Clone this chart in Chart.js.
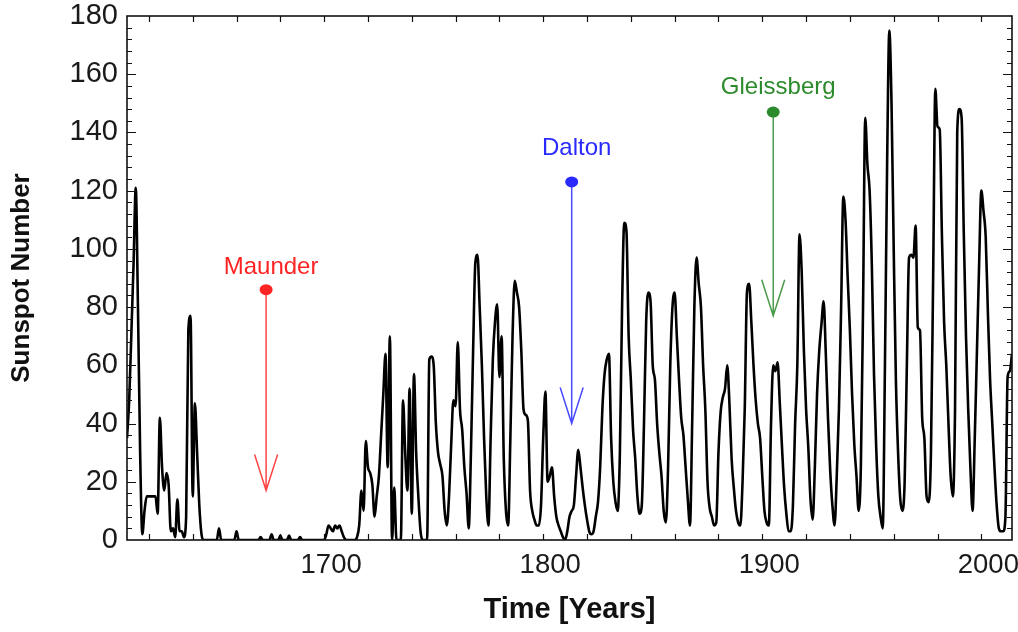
<!DOCTYPE html>
<html>
<head>
<meta charset="utf-8">
<title>Sunspot Number</title>
<script src="https://cdn.jsdelivr.net/npm/chart.js@4.4.1/dist/chart.umd.min.js"></script>
<style>
  html, body { margin: 0; padding: 0; background: #fff; }
  #wrap { width: 1018px; height: 632px; }
</style>
</head>
<body>
<div id="wrap"><canvas id="chart" width="1018" height="632"></canvas></div>
<script>
// ── data (yearly values) ──
const FIRST_YEAR = 1610;

const sunspots = [
  // 1610
  35, 48, 71, 95, 121, 80, 30, 2, 10, 15,
  // 1620
  15, 15, 15, 15, 9, 42, 25, 17, 23, 19,
  // 1630
  3, 4, 1, 14, 3, 3, 1, 8, 72, 77,
  // 1640
  15, 47, 30, 12, 2, 0, 0, 0, 0, 0,
  // 1650
  0, 0, 4, 0, 0, 0, 0, 0, 0, 0,
  // 1660
  3, 0, 0, 0, 0, 0, 0, 0, 0, 0,
  // 1670
  0, 1, 0, 0, 0, 0, 2, 0, 0, 0,
  // 1680
  1.5, 0, 0, 0, 1.5, 0, 0, 0, 0, 1,
  // 1690
  0, 0, 0, 0, 0, 0, 0, 0, 0, 0,
  // 1700
  0, 2, 5, 4, 3, 5, 4, 5, 3, 1,
  // 1710
  0, 0, 0, 0, 0, 1, 5, 17, 10, 34,
  // 1720
  25, 23, 19, 8, 15, 22, 36, 50, 64, 25,
  // 1730
  70, 0, 18, 0, 0, 0, 48, 30, 17, 52,
  // 1740
  9, 57, 30, 15, 3, 0, 0, 0, 62, 63,
  // 1750
  60, 40, 30, 26, 22, 10, 5, 15, 33, 48,
  // 1760
  46, 68, 45, 38, 25, 16, 4, 30, 65, 95,
  // 1770
  98, 80, 60, 35, 15, 5, 35, 62, 75, 81,
  // 1780
  56, 70, 28, 10, 5, 35, 70, 89, 85, 80,
  // 1790
  65, 45, 43, 41, 17, 10, 7, 5, 5, 12,
  // 1800
  35, 51, 20, 22, 25, 15, 8, 5, 3, 1,
  // 1810
  0, 3, 8, 10, 12, 22, 31, 25, 18, 12,
  // 1820
  7, 3, 2, 3, 8, 13, 25, 45, 57, 62,
  // 1830
  64, 35, 20, 13, 10, 30, 80, 109, 106, 70,
  // 1840
  55, 38, 28, 15, 9, 12, 40, 75, 85, 82,
  // 1850
  60, 55, 40, 30, 22, 10, 6, 25, 60, 80,
  // 1860
  85, 70, 55, 42, 36, 25, 14, 5, 40, 80,
  // 1870
  97, 88, 80, 60, 45, 20, 11, 8, 5, 6,
  // 1880
  30, 44, 49, 52, 60, 47, 28, 18, 10, 6,
  // 1890
  5, 20, 45, 85, 88, 75, 60, 48, 40, 35,
  // 1900
  22, 10, 6, 5, 40, 60, 58, 61, 47, 32,
  // 1910
  18, 9, 3, 3, 12, 40, 60, 105, 92, 65,
  // 1920
  45, 32, 14, 7, 25, 50, 65, 74, 82, 64,
  // 1930
  42, 24, 12, 5, 22, 45, 80, 118, 110, 90,
  // 1940
  72, 50, 33, 22, 10, 25, 80, 145, 129, 120,
  // 1950
  95, 57, 32, 15, 8, 4, 60, 130, 175, 150,
  // 1960
  100, 55, 30, 14, 10, 20, 60, 97, 98, 97,
  // 1970
  108, 73, 72, 42, 35, 15, 13, 30, 90, 155,
  // 1980
  142, 141, 105, 75, 60, 40, 22, 15, 45, 140,
  // 1990
  148, 145, 105, 70, 45, 25, 10, 35, 65, 95,
  // 2000
  120, 113, 104, 78, 55, 40, 25, 12, 4, 3,
  // 2010
  3, 8, 56, 58, 64,
];

const years = sunspots.map((_, i) => FIRST_YEAR + i);

const X_MIN = 1610;
const X_MAX = 2014;
const xTickYears = [1700, 1800, 1900, 2000];
const Y_MAX = 180;

// grand minima markers
const minimaNames  = ['Maunder', 'Dalton', 'Gleissberg'];
const minimaYears  = [1673.5, 1813, 1905];
const minimaDots   = [86, 123, 147];
const minimaTips   = [17, 40, 77];
const minimaLabels = [93.5, 134.5, 155.6];
const minimaColors = ['#ff2424', '#2a2aff', '#2b8a2b'];

const FONT = '"Liberation Sans", Arial, Helvetica, sans-serif';

// ─────────────────────────────────────────
// frame + inward ticks
// ─────────────────────────────────────────
const framePlugin = {
  id: 'frame',
  afterDatasetsDraw(chart) {
    const { ctx, chartArea: a, scales: { x, y } } = chart;
    ctx.save();
    ctx.strokeStyle = '#111';
    ctx.lineWidth = 1.2;
    ctx.beginPath();
    for (let yr = 1620; yr < X_MAX; yr += 20) {
      const px = Math.round(x.getPixelForValue(yr)) + 0.5;
      ctx.moveTo(px, a.bottom); ctx.lineTo(px, a.bottom - 6);
      ctx.moveTo(px, a.top);    ctx.lineTo(px, a.top + 6);
    }
    for (let v = 4; v < Y_MAX; v += 4) {
      const py = Math.round(y.getPixelForValue(v)) + 0.5;
      const len = v % 20 === 0 ? 9 : 5;
      ctx.moveTo(a.left, py);  ctx.lineTo(a.left + len, py);
      ctx.moveTo(a.right, py); ctx.lineTo(a.right - len, py);
    }
    ctx.stroke();
    ctx.lineWidth = 1.6;
    ctx.strokeRect(a.left, a.top, a.right - a.left, a.bottom - a.top);
    ctx.restore();
  },
};

// ─────────────────────────────────────────
// Maunder / Dalton / Gleissberg arrows
// ─────────────────────────────────────────
const minimaPlugin = {
  id: 'minima',
  afterDatasetsDraw(chart) {
    const { ctx, scales: { x, y } } = chart;
    minimaNames.forEach((name, i) => {
      const px = x.getPixelForValue(minimaYears[i]);
      const top = y.getPixelForValue(minimaDots[i]);
      const tip = y.getPixelForValue(minimaTips[i]);
      const lab = y.getPixelForValue(minimaLabels[i]);
      const col = minimaColors[i];

      ctx.save();
      ctx.strokeStyle = col;
      ctx.globalAlpha = 0.85;
      ctx.lineWidth = 1.5;
      ctx.beginPath();
      ctx.moveTo(px, top);
      ctx.lineTo(px, tip);
      ctx.moveTo(px - 11.5, tip - 36);
      ctx.lineTo(px, tip);
      ctx.lineTo(px + 11.5, tip - 36);
      ctx.stroke();

      ctx.globalAlpha = 1;
      ctx.fillStyle = col;
      ctx.beginPath();
      ctx.ellipse(px, top, 6.5, 5.5, 0, 0, Math.PI * 2);
      ctx.fill();

      ctx.font = `24px ${FONT}`;
      ctx.textAlign = 'center';
      ctx.textBaseline = 'middle';
      ctx.fillText(name, px + 5, lab);
      ctx.restore();
    });
  },
};

// ─────────────────────────────────────────
// chart
// ─────────────────────────────────────────
new Chart(document.getElementById('chart'), {
  type: 'line',
  data: {
    datasets: [{
      data: years.map((yr, i) => ({ x: yr, y: sunspots[i] })),
      borderColor: '#000',
      borderWidth: 2.6,
      pointRadius: 0,
      cubicInterpolationMode: 'monotone',
      fill: false,
    }],
  },
  options: {
    responsive: false,
    animation: false,
    devicePixelRatio: 1,
    layout: { padding: { top: 16, right: 6, left: 0, bottom: 0 } },
    plugins: {
      legend: { display: false },
      tooltip: { enabled: false },
    },
    scales: {
      x: {
        type: 'linear',
        min: X_MIN,
        max: X_MAX,
        grid: { display: false, drawTicks: false },
        border: { display: false },
        afterBuildTicks: (s) => { s.ticks = xTickYears.map((v) => ({ value: v })); },
        afterFit: (s) => {
          s.height = 92;
          s.paddingLeft = 0;
          s.paddingRight = 0;
        },
        ticks: {
          color: '#1a1a1a',
          font: { family: FONT, size: 27.5 },
          padding: 9,
          labelOffset: 7,
          maxRotation: 0,
          callback: (v) => String(v),
        },
        title: {
          display: true,
          text: 'Time [Years]',
          color: '#111',
          font: { family: FONT, size: 29, weight: 'bold' },
          padding: { top: 0, bottom: 5 },
        },
      },
      y: {
        min: 0,
        max: Y_MAX,
        grid: { display: false, drawTicks: false },
        border: { display: false },
        afterFit: (s) => {
          s.width = 127;
          s.paddingTop = 0;
          s.paddingBottom = 0;
        },
        ticks: {
          stepSize: 20,
          color: '#1a1a1a',
          font: { family: FONT, size: 29 },
          padding: 9,
        },
        title: {
          display: true,
          text: 'Sunspot Number',
          color: '#111',
          font: { family: FONT, size: 26, weight: 'bold' },
          padding: { top: 6, bottom: 0 },
        },
      },
    },
  },
  plugins: [framePlugin, minimaPlugin],
});
</script>
</body>
</html>
